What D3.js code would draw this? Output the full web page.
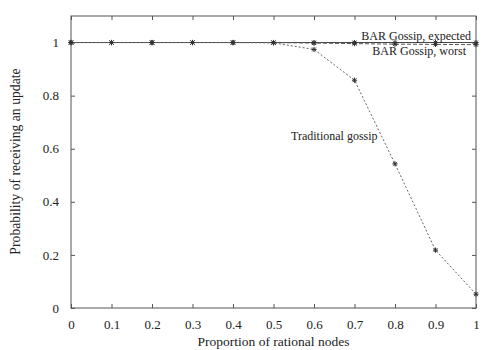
<!DOCTYPE html>
<html><head><meta charset="utf-8">
<script src="https://cdn.jsdelivr.net/npm/d3@7"></script>
<style>body{margin:0;background:#fff}svg{display:block}</style>
</head><body><svg id="c" width="500" height="350"></svg>
<script>
const xs = [0,0.1,0.2,0.3,0.4,0.5,0.6,0.7,0.8,0.9,1.0];
const barExpected = [1,1,1,1,1,1,1,1,1,1,1];
const barWorst = [1,1,1,1,1,1,0.998,0.996,0.994,0.993,0.992];
const traditional = [1,1,1,1,1,0.999,0.974,0.858,0.543,0.218,0.052];
const xTicks = [0,0.1,0.2,0.3,0.4,0.5,0.6,0.7,0.8,0.9,1];
const yTicks = [0,0.2,0.4,0.6,0.8,1];

const FONT = "'Liberation Serif', 'Times New Roman', Times, serif";
const svg = d3.select("#c").style("font-family",FONT);
const L=71,R=476,T=16,B=308;
const x = d3.scaleLinear().domain([0,1]).range([L,R]);
const y = d3.scaleLinear().domain([0,1.1]).range([B,T]);
const axisCol="#555";

svg.append("rect").attr("x",L).attr("y",T).attr("width",R-L).attr("height",B-T)
  .attr("fill","none").attr("stroke",axisCol).attr("stroke-width",1);

const xa = svg.append("g").attr("transform",`translate(0,${B})`)
  .call(d3.axisBottom(x).tickValues(xTicks).tickSizeInner(-4).tickSizeOuter(0).tickPadding(12).tickFormat(d3.format("")));
const xt = svg.append("g").attr("transform",`translate(0,${T})`)
  .call(d3.axisTop(x).tickValues(xTicks).tickSizeInner(-4).tickSizeOuter(0).tickFormat(""));
const ya = svg.append("g").attr("transform",`translate(${L},0)`)
  .call(d3.axisLeft(y).tickValues(yTicks).tickSizeInner(-4).tickSizeOuter(0).tickPadding(12).tickFormat(d3.format("")));
const yr = svg.append("g").attr("transform",`translate(${R},0)`)
  .call(d3.axisRight(y).tickValues(yTicks).tickSizeInner(-4).tickSizeOuter(0).tickFormat(""));
[xa,xt,ya,yr].forEach(g=>{
  g.attr("font-family",null).attr("font-size",null);
  g.select(".domain").remove();
  g.selectAll("line").attr("stroke",axisCol);
  g.selectAll("text").style("font-family",FONT).style("font-size","13px").attr("fill","#222");
});

const series = [
  {v:barExpected, dash:null, col:"#444"},
  {v:barWorst, dash:"4,2", col:"#555"},
  {v:traditional, dash:"2,2", col:"#666"}
];
const line = d3.line().x((d,i)=>x(xs[i])).y(d=>y(d));
series.forEach(s=>{
  svg.append("path").datum(s.v).attr("d",line).attr("fill","none")
    .attr("stroke",s.col).attr("stroke-width",1).attr("stroke-dasharray",s.dash);
});
const star = (g,cx,cy,col)=>{
  const r=2.6;
  g.append("path").attr("d",`M${cx-r},${cy}H${cx+r}M${cx},${cy-r}V${cy+r}M${cx-r*0.75},${cy-r*0.75}L${cx+r*0.75},${cy+r*0.75}M${cx-r*0.75},${cy+r*0.75}L${cx+r*0.75},${cy-r*0.75}`)
   .attr("stroke",col).attr("stroke-width",1).attr("fill","none");
};
const mg = svg.append("g");
series.forEach(s=>{ s.v.forEach((d,i)=>star(mg,x(xs[i]),y(d),"#333")); });

const txt = (xx,yy,s,anchor,size)=>svg.append("text").attr("x",xx).attr("y",yy)
  .attr("text-anchor",anchor).style("font-family",FONT).style("font-size",size+"px").attr("fill","#222").text(s);
txt(471,40,"BAR Gossip, expected","end",12);
txt(466,55,"BAR Gossip, worst","end",12);
txt(291,140,"Traditional gossip","start",12);
txt((L+R)/2,346,"Proportion of rational nodes","middle",13.5);
svg.append("text").attr("transform",`translate(19.5,161.5) rotate(-90)`).attr("text-anchor","middle")
  .style("font-family",FONT).style("font-size","13.7px").attr("fill","#222").text("Probability of receiving an update");
</script></body></html>
